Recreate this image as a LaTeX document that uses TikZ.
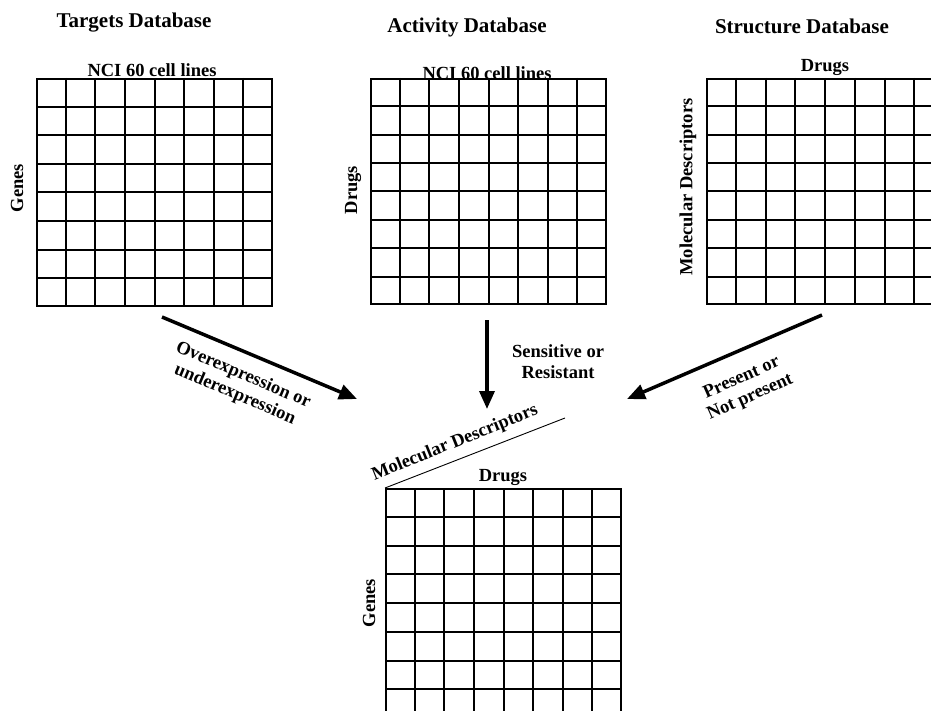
\documentclass[tikz,border=0pt]{standalone}
\usepackage{fontspec}
\setmainfont{Liberation Serif}
\usetikzlibrary{calc,arrows.meta}
\newcommand\mygridlines[1]{%
  \foreach \i in {1,...,7}{%
    \draw[gline] ($(#1.north west)!\i/8!(#1.north east)$) -- ($(#1.south west)!\i/8!(#1.south east)$);
    \draw[gline] ($(#1.north west)!\i/8!(#1.south west)$) -- ($(#1.north east)!\i/8!(#1.south east)$);
  }}
\begin{document}
\begin{tikzpicture}[x=1pt,y=-1pt,
  gridbox/.style={draw, line width=2pt, inner sep=0pt, minimum width=235pt},
  gline/.style={line width=2pt},
  title/.style={font=\bfseries\fontsize{21}{25}\selectfont},
  lab/.style={font=\bfseries\fontsize{18.5}{21}\selectfont, align=center, inner sep=0pt},
  bigarrow/.style={line width=3.5pt, -{Triangle[length=18pt,width=15pt]}}]
\useasboundingbox (0,0) rectangle (931,711);
\clip (0,0) rectangle (931,711);
\fill[white] (0,0) rectangle (931,711);

% grids
\node[gridbox, minimum height=227pt] (g1) at (154.5,192.5) {};
\node[gridbox, minimum height=225pt] (g2) at (488.5,191.5) {};
\node[gridbox, minimum width=236pt, minimum height=225pt] (g3) at (825,191.5) {};
\node[gridbox, minimum height=228pt] (g4) at (503.5,603) {};
\mygridlines{g1}
\mygridlines{g2}
\mygridlines{g3}
\mygridlines{g4}

% titles
\node[title] (t1) at (134,23) {Targets Database};
\node[title] (t2) at (467,27) {Activity Database};
\node[title] (t3) at (802,26) {Structure Database};

% axis labels
\node[lab] (c1) at (152,70) {NCI 60 cell lines};
\node[lab] (c2) at (487,73) {NCI 60 cell lines};
\node[lab] (c3) at (825,67) {Drugs};
\node[lab, rotate=90] (r1) at (17,188) {Genes};
\node[lab, rotate=90] (r2) at (353,190) {Drugs};
\node[lab, rotate=90] (r3) at (688,187) {Molecular Descriptors};
\node[lab] (c4) at (503,477) {Drugs};
\node[lab, rotate=90] (r4) at (369,603) {Genes};

% diagonal header
\coordinate (d4) at (565,418);
\draw[line width=0.9pt] (g4.north west) -- (d4);
\node[lab, rotate=22] (m4) at (455,443) {Molecular Descriptors};

% arrows
\coordinate (a1s) at (162,317);
\coordinate (a1e) at (357,399);
\coordinate (a2s) at (487,320);
\coordinate (a2e) at (487,409);
\coordinate (a3s) at (822,315);
\coordinate (a3e) at (627,399);
\draw[bigarrow] (a1s) -- (a1e);
\draw[bigarrow] (a2s) -- (a2e);
\draw[bigarrow] (a3s) -- (a3e);

\node[lab, rotate=-23] (l1) at (239,385) {Overexpression or\\underexpression};
\node[lab] (l2) at (558,362) {Sensitive or\\Resistant};
\node[lab, rotate=24] (l3) at (746,388) {Present or\\Not present};
\end{tikzpicture}
\end{document}
